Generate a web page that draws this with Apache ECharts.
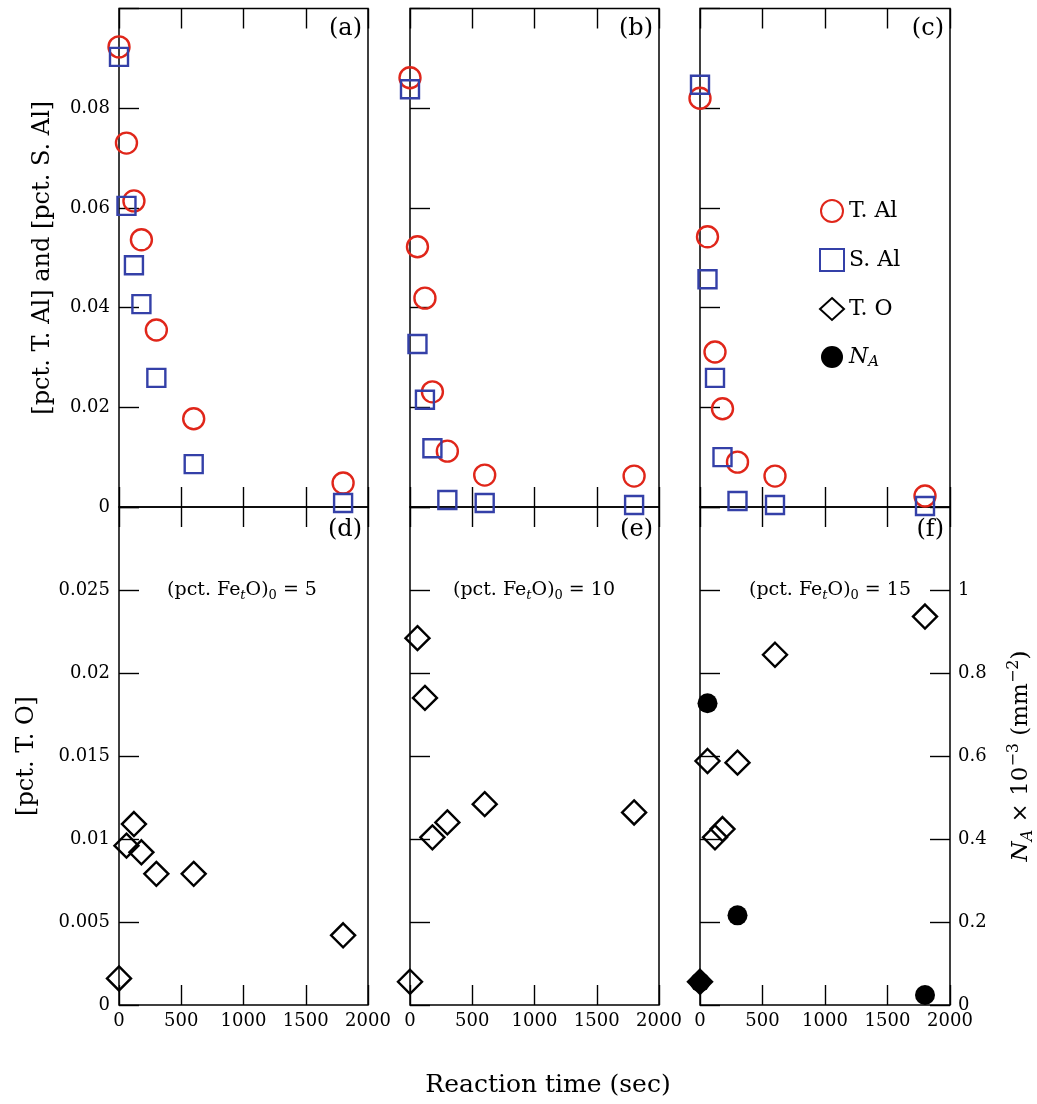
<!DOCTYPE html>
<html>
<head>
<meta charset="utf-8">
<script src="https://cdn.jsdelivr.net/npm/echarts@6/dist/echarts.min.js"></script>
<style>
html,body{margin:0;padding:0;background:#fff;}
#c{width:1037px;height:1104px;}
</style>
</head>
<body>
<div id="c"></div>
<script>
// ---------- data ----------
const times = [0, 60, 120, 180, 300, 600, 1800];
const timesNA = [0, 60, 300, 1800];

// (pct. FetO)0 = 5
const tAlA = [0.0923, 0.0730, 0.0614, 0.0536, 0.0355, 0.0177, 0.0048];
const sAlA = [0.0903, 0.0604, 0.0485, 0.0407, 0.0259, 0.0086, 0.0008];
const tOD  = [0.0016, 0.0096, 0.0109, 0.0092, 0.0079, 0.0079, 0.0042];
// (pct. FetO)0 = 10
const tAlB = [0.0861, 0.0522, 0.0419, 0.0231, 0.0112, 0.0064, 0.0062];
const sAlB = [0.0838, 0.0327, 0.0215, 0.0118, 0.0014, 0.0008, 0.0004];
const tOE  = [0.0014, 0.0221, 0.0185, 0.0101, 0.0110, 0.0121, 0.0116];
// (pct. FetO)0 = 15
const tAlC = [0.0820, 0.0542, 0.0311, 0.0197, 0.0090, 0.0062, 0.0022];
const sAlC = [0.0847, 0.0457, 0.0259, 0.0100, 0.0012, 0.0004, 0.0002];
const tOF  = [0.0014, 0.0147, 0.0101, 0.0106, 0.0146, 0.0211, 0.0234];
const nAF  = [0.055, 0.727, 0.216, 0.024];

const xTickLabels = ['0', '500', '1000', '1500', '2000'];
const yTopLabels = ['0', '0.02', '0.04', '0.06', '0.08', ''];
const yBotLabels = ['0', '0.005', '0.01', '0.015', '0.02', '0.025', ''];
const yRightLabels = ['0', '0.2', '0.4', '0.6', '0.8', '1', ''];
const panelTags = ['(a)', '(b)', '(c)', '(d)', '(e)', '(f)'];
const feoValues = ['5', '10', '15'];

// ---------- layout ----------
const FONT = 'DejaVu Serif, Liberation Serif, serif';
const colLeft = [119, 410, 700];
const colWidth = [249, 249, 250];
const rowTop = [8.5, 507];
const rowHeight = [498.5, 498];

const grids = [];
for (let r = 0; r < 2; r++) for (let c = 0; c < 3; c++) {
  grids.push({left: colLeft[c], top: rowTop[r], width: colWidth[c], height: rowHeight[r],
    show: true, borderColor: '#000', borderWidth: 1.5, backgroundColor: 'transparent', containLabel: false});
}

const tickStyle = {show: true, inside: true, length: 20, lineStyle: {color: '#000', width: 1.4}};
const noLine = {show: false, onZero: false};
const xAxes = [];
for (let g = 0; g < 6; g++) {
  const bottomRow = g >= 3;
  xAxes.push({gridIndex: g, type: 'value', position: 'bottom', min: 0, max: 2000, interval: 500,
    axisLine: noLine, splitLine: {show: false}, axisTick: tickStyle,
    axisLabel: {show: bottomRow, margin: 7, color: '#000', fontFamily: FONT, fontSize: 18,
      formatter: v => xTickLabels[Math.round(v / 500)]}});
  xAxes.push({gridIndex: g, type: 'value', position: 'top', min: 0, max: 2000, interval: 500,
    axisLine: noLine, splitLine: {show: false}, axisTick: tickStyle, axisLabel: {show: false}});
}
const titleStyle = {fontFamily: FONT, fontSize: 24, color: '#000'};
const yAxes = [];
for (let g = 0; g < 6; g++) {
  const bottomRow = g >= 3;
  const ax = {gridIndex: g, type: 'value', position: 'left', min: 0,
    max: bottomRow ? 0.03 : 0.1, interval: bottomRow ? 0.005 : 0.02,
    axisLine: noLine, splitLine: {show: false}, axisTick: tickStyle,
    axisLabel: {show: g === 0 || g === 3, margin: 9, color: '#000', fontFamily: FONT, fontSize: 18,
      formatter: bottomRow ? (v => yBotLabels[Math.round(v / 0.005)]) : (v => yTopLabels[Math.round(v / 0.02)])}};
  if (g === 0) {
    ax.name = '[pct. T. Al] and [pct. S. Al]';
    ax.nameLocation = 'middle'; ax.nameGap = 64; ax.nameRotate = 90;
    ax.nameTextStyle = titleStyle;
  }
  if (g === 3) {
    ax.name = '[pct. T. O]';
    ax.nameLocation = 'middle'; ax.nameGap = 80; ax.nameRotate = 90;
    ax.nameTextStyle = titleStyle;
  }
  yAxes.push(ax);
}
// right axis for N_A (panel f)
yAxes.push({gridIndex: 5, type: 'value', position: 'right', min: 0, max: 1.2, interval: 0.2,
  axisLine: noLine, splitLine: {show: false}, axisTick: tickStyle,
  axisLabel: {show: true, margin: 8, color: '#000', fontFamily: FONT, fontSize: 18,
    formatter: v => yRightLabels[Math.round(v / 0.2)]},
  name: '{i|N}{s|A}{n| × 10}{p|−3}{n| (mm}{p|−2}{n|)}',
  nameLocation: 'middle', nameGap: 56, nameRotate: 90,
  nameTextStyle: {fontFamily: FONT, fontSize: 23, color: '#000',
    rich: {
      i: {fontFamily: FONT, fontSize: 23, fontStyle: 'italic', lineHeight: 30, color: '#000'},
      s: {fontFamily: FONT, fontSize: 16, fontStyle: 'italic', lineHeight: 16, verticalAlign: 'bottom', color: '#000'},
      n: {fontFamily: FONT, fontSize: 23, lineHeight: 30, color: '#000'},
      p: {fontFamily: FONT, fontSize: 16, lineHeight: 16, verticalAlign: 'top', color: '#000'}
    }}
});

const RED = '#e0261a', BLUE = '#3440a8';
const circleStyle = {color: 'rgba(0,0,0,0)', borderColor: RED, borderWidth: 2.4, opacity: 1};
const squareStyle = {color: 'rgba(0,0,0,0)', borderColor: BLUE, borderWidth: 2.4, opacity: 1};
const diamondStyle = {color: 'rgba(0,0,0,0)', borderColor: '#000', borderWidth: 2.4, opacity: 1};
const zip = (xs, ys) => xs.map((x, i) => [x, ys[i]]);

const series = [];
const tAl = [tAlA, tAlB, tAlC], sAl = [sAlA, sAlB, sAlC], tO = [tOD, tOE, tOF];
for (let c = 0; c < 3; c++) {
  series.push({name: 'T. Al', type: 'scatter', xAxisIndex: 2 * c, yAxisIndex: c,
    symbol: 'circle', symbolSize: 21, itemStyle: circleStyle, data: zip(times, tAl[c]), z: 3});
  series.push({name: 'S. Al', type: 'scatter', xAxisIndex: 2 * c, yAxisIndex: c,
    symbol: 'rect', symbolSize: 18, itemStyle: squareStyle, data: zip(times, sAl[c]), z: 3});
}
series.push({name: 'N_A', type: 'scatter', xAxisIndex: 10, yAxisIndex: 6,
  symbol: 'circle', symbolSize: 20, itemStyle: {color: '#000', opacity: 1}, data: zip(timesNA, nAF), z: 3});
for (let c = 0; c < 3; c++) {
  const g = 3 + c;
  const isF = c === 2;
  series.push({name: 'T. O', type: 'scatter', xAxisIndex: 2 * g, yAxisIndex: g,
    symbol: 'diamond', symbolSize: 24,
    itemStyle: diamondStyle,
    data: zip(times, tO[c]).map((d, i) => (isF && i === 0) ? {value: d, itemStyle: {color: '#000'}} : d), z: 4});
}

// ---------- annotations ----------
const graphics = [];
for (let g = 0; g < 6; g++) {
  const r = g >= 3 ? 1 : 0, c = g % 3;
  graphics.push({type: 'text', x: colLeft[c] + colWidth[c] - 6, y: r === 0 ? 29 : 530,
    style: {text: panelTags[g], fill: '#000', font: '24px ' + FONT, textAlign: 'right', textVerticalAlign: 'middle'}});
}
const feoCenters = [242, 534, 830];
for (let c = 0; c < 3; c++) {
  graphics.push({type: 'text', x: feoCenters[c], y: 590,
    style: {text: '{n|(pct. Fe}{it|t}{n|O)}{s|0}{n| = ' + feoValues[c] + '}',
      textAlign: 'center', textVerticalAlign: 'middle', fill: '#000',
      rich: {
        n: {fontFamily: FONT, fontSize: 19, lineHeight: 24, fill: '#000'},
        it: {fontFamily: FONT, fontSize: 13, fontStyle: 'italic', lineHeight: 12, verticalAlign: 'bottom', fill: '#000'},
        s: {fontFamily: FONT, fontSize: 13, lineHeight: 12, verticalAlign: 'bottom', fill: '#000'}
      }}});
}
graphics.push({type: 'text', x: 548, y: 1085,
  style: {text: 'Reaction time (sec)', fill: '#000', font: '25px ' + FONT, textAlign: 'center', textVerticalAlign: 'middle'}});

const chart = echarts.init(document.getElementById('c'), null, {renderer: 'canvas'});
chart.setOption({
  backgroundColor: '#fff',
  animation: false,
  grid: grids,
  xAxis: xAxes,
  yAxis: yAxes,
  legend: {
    show: true, orient: 'vertical', left: 814, top: 194, itemGap: 25,
    itemWidth: 24, itemHeight: 22, selectedMode: false,
    data: ['T. Al', 'S. Al', 'T. O', 'N_A'],
    formatter: n => n === 'N_A' ? '{i|N}{s|A}' : '{n|' + n + '}',
    textStyle: {fontFamily: FONT, fontSize: 22, color: '#000',
      rich: {
        n: {fontFamily: FONT, fontSize: 22, color: '#000', lineHeight: 26},
        i: {fontFamily: FONT, fontSize: 22, fontStyle: 'italic', color: '#000', lineHeight: 26},
        s: {fontFamily: FONT, fontSize: 15, fontStyle: 'italic', color: '#000', lineHeight: 14, verticalAlign: 'bottom'}
      }}
  },
  series: series,
  graphic: graphics
});
</script>
</body>
</html>
